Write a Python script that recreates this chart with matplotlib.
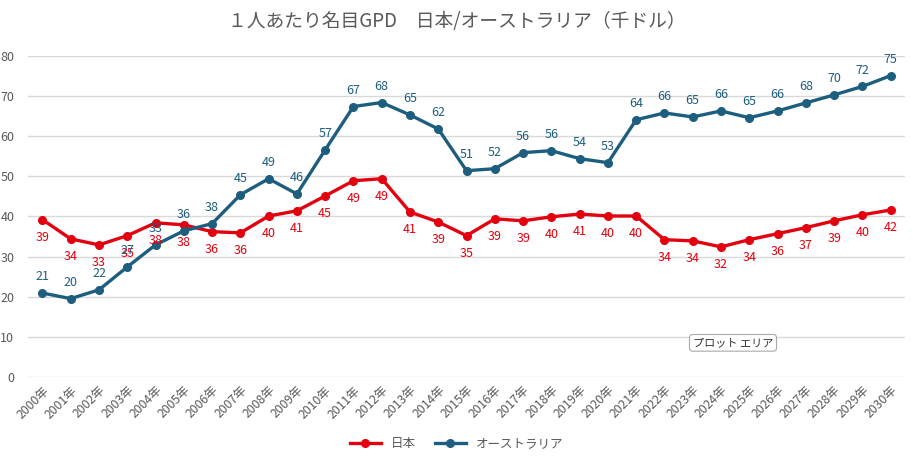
import matplotlib
matplotlib.use("Agg")
import matplotlib.pyplot as plt
import numpy as np

plt.rcParams['font.family'] = ['Noto Sans CJK JP', 'DejaVu Sans']

years = [f"{y}年" for y in range(2000, 2031)]
japan = [39.2, 34.4, 32.9, 35.2, 38.4, 37.9, 36.2, 35.9, 40.1, 41.4, 45.1, 48.9, 49.4, 41.1, 38.6, 35.2,
         39.4, 38.9, 39.9, 40.6, 40.1, 40.1, 34.2, 33.9, 32.4, 34.2, 35.7, 37.2, 38.9, 40.4, 41.6]
australia = [20.9, 19.5, 21.7, 27.4, 32.9, 36.4, 38.2, 45.4, 49.4, 45.6, 56.6, 67.4, 68.4, 65.3, 61.8, 51.4,
             51.9, 55.9, 56.4, 54.4, 53.4, 64.1, 65.8, 64.8, 66.3, 64.6, 66.3, 68.3, 70.3, 72.4, 75.1]
series_names = ["日本", "オーストラリア"]
title = "１人あたり名目GPD　日本/オーストラリア（千ドル）"

c_jp = "#E3000F"
c_au = "#1D5E7E"
gray = "#595959"

fig = plt.figure(figsize=(9.13, 4.59), dpi=100)
ax = fig.add_axes([0.031, 0.179, 0.96, 0.699])
x = np.arange(len(years))

ax.plot(x, japan, color=c_jp, lw=2.4, marker='o', ms=5.5, label=series_names[0], zorder=3)
ax.plot(x, australia, color=c_au, lw=2.4, marker='o', ms=5.5, label=series_names[1], zorder=3)

for xi, v in zip(x, japan):
    ax.annotate(f"{round(v)}", (xi, v), xytext=(0, -8), textcoords='offset points',
                ha='center', va='top', color=c_jp, fontsize=9)
for xi, v in zip(x, australia):
    ax.annotate(f"{round(v)}", (xi, v), xytext=(0, 7), textcoords='offset points',
                ha='center', va='bottom', color=c_au, fontsize=9)

ax.set_xlim(-0.5, len(years) - 0.5)
ax.set_ylim(0, 80)
ax.set_yticks(range(0, 81, 10))
ax.set_xticks(x)
ax.set_xticklabels(years, rotation=45, ha='right', rotation_mode='anchor', fontsize=8.8, color=gray)
ax.tick_params(axis='y', labelsize=9, labelcolor=gray, length=0, pad=10)
ax.tick_params(axis='x', length=0, pad=5)
ax.grid(axis='y', color='#D9D9D9', lw=1)
ax.set_axisbelow(True)
for s in ax.spines.values():
    s.set_visible(False)

fig.suptitle(title, y=0.975, fontsize=13.5, color=gray)
fig.legend(loc='center', bbox_to_anchor=(0.5, 0.033), ncol=2, frameon=False,
           fontsize=9, labelcolor=gray, handlelength=2.5, columnspacing=1.5)

ax.text(0.804, 0.106, "プロット エリア", transform=ax.transAxes, fontsize=8, color='#333333',
        ha='center', va='center',
        bbox=dict(boxstyle='round,pad=0.3', fc='white', ec='#AAAAAA', lw=0.8))

fig.savefig("out.png", dpi=100)
